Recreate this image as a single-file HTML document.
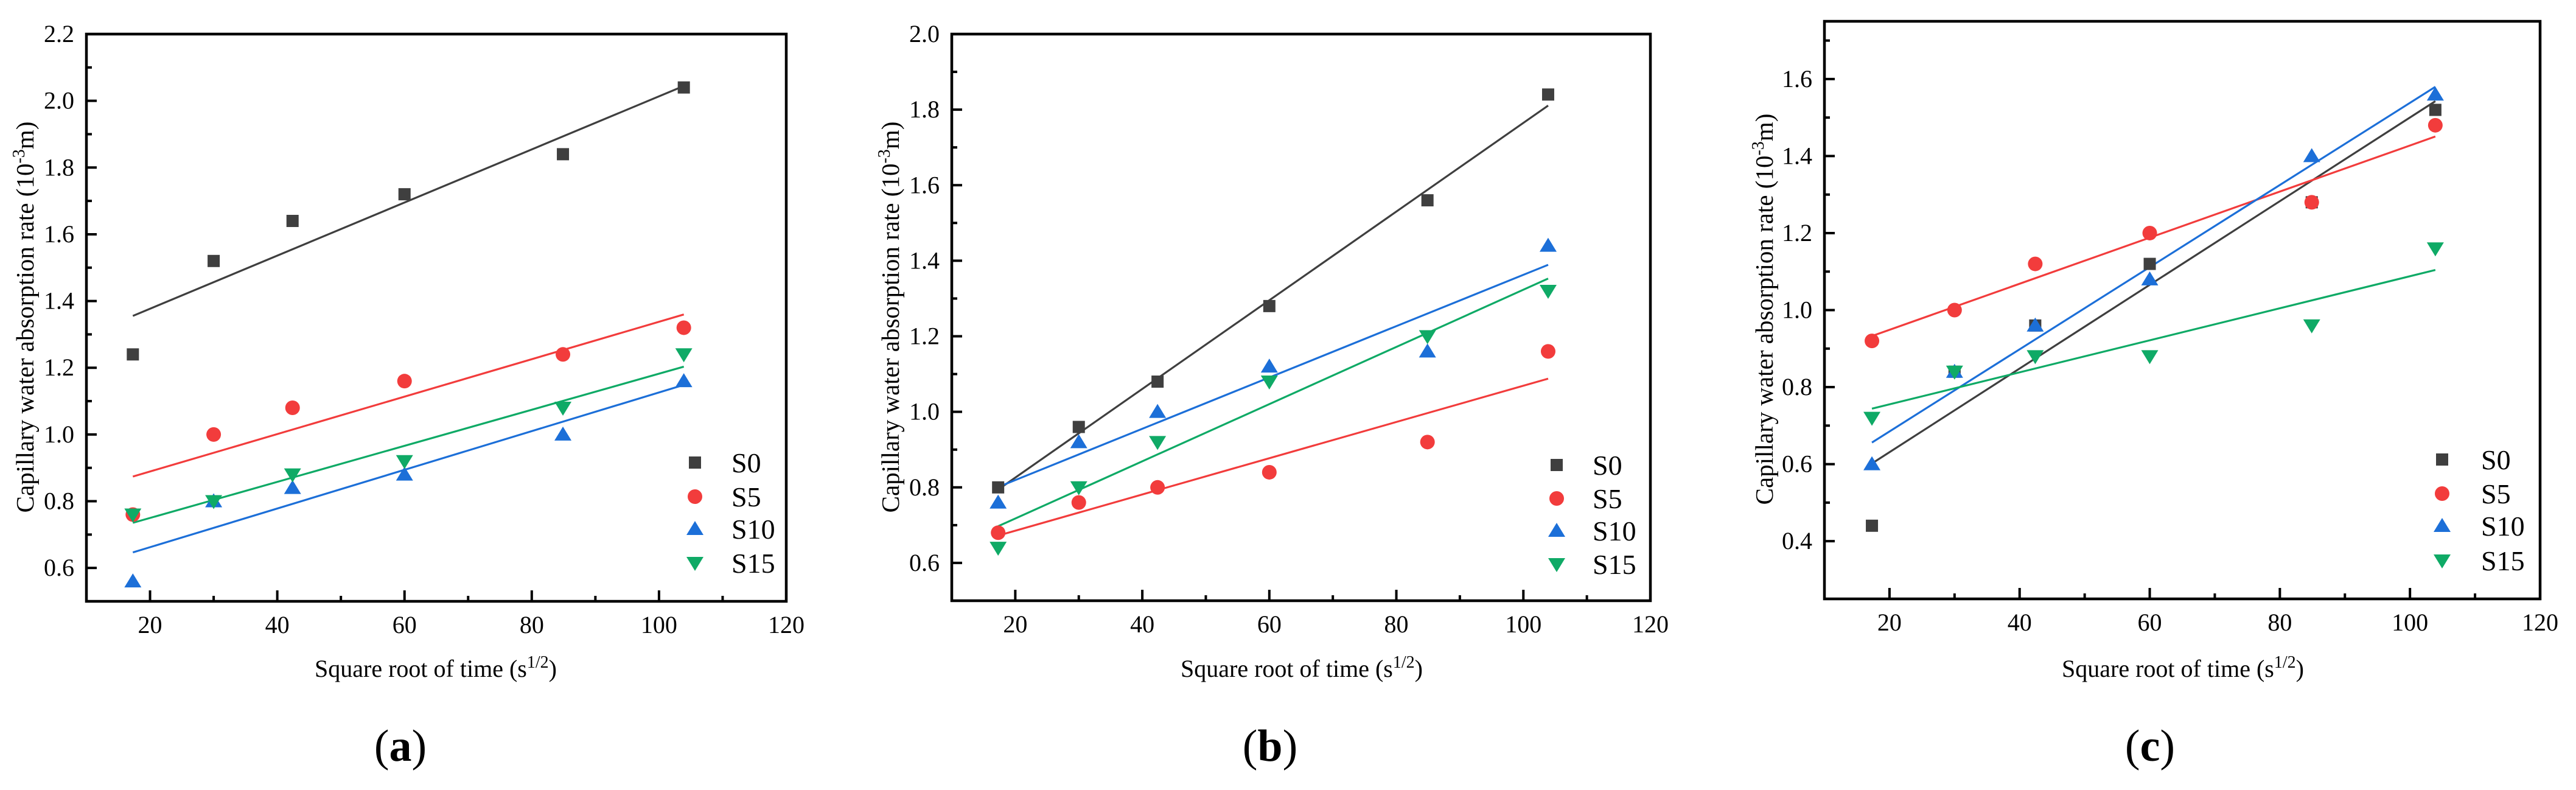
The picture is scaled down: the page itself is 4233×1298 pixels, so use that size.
<!DOCTYPE html>
<html><head><meta charset="utf-8">
<style>
html,body{margin:0;padding:0;background:#fff;}
svg{display:block;}
svg text{font-family:"Liberation Serif","Times New Roman",serif;}
</style></head>
<body>
<svg id="fig" width="4233" height="1298" viewBox="0 0 4233 1298" font-family="Liberation Serif, serif"></svg>
<script>
const xTimes = [17.3, 30, 42.4, 60, 84.9, 103.9];
const seriesNames = ["S0","S5","S10","S15"];
const seriesColors = ["#3f3f3f","#f23c3c","#1c6fd8","#0faa66"];
const aS0 = [1.24,1.52,1.64,1.72,1.84,2.04];
const aS5 = [0.76,1.00,1.08,1.16,1.24,1.32];
const aS10 = [0.56,0.80,0.84,0.88,1.00,1.16];
const aS15 = [0.76,0.80,0.88,0.92,1.08,1.24];
const bS0 = [0.80,0.96,1.08,1.28,1.56,1.84];
const bS5 = [0.68,0.76,0.80,0.84,0.92,1.16];
const bS10 = [0.76,0.92,1.00,1.12,1.16,1.44];
const bS15 = [0.64,0.80,0.92,1.08,1.20,1.32];
const cS0 = [0.44,0.84,0.96,1.12,1.28,1.52];
const cS5 = [0.92,1.00,1.12,1.20,1.28,1.48];
const cS10 = [0.60,0.84,0.96,1.08,1.40,1.56];
const cS15 = [0.72,0.84,0.88,0.88,0.96,1.16];
const xTickLabels = ["20","40","60","80","100","120"];
const aYTicks = ["0.6","0.8","1.0","1.2","1.4","1.6","1.8","2.0","2.2"];
const bYTicks = ["0.6","0.8","1.0","1.2","1.4","1.6","1.8","2.0"];
const cYTicks = ["0.4","0.6","0.8","1.0","1.2","1.4","1.6"];

const NS="http://www.w3.org/2000/svg";
const svg=document.getElementById('fig');
const FF='"Liberation Serif", "Times New Roman", serif';
function mk(tag,attrs,parent){const e=document.createElementNS(NS,tag);for(const k in attrs)e.setAttribute(k,attrs[k]);if(tag==='text')e.style.fontFamily=FF;(parent||svg).appendChild(e);return e;}

function fit(xs,ys){const n=xs.length;let sx=0,sy=0,sxx=0,sxy=0;for(let i=0;i<n;i++){sx+=xs[i];sy+=ys[i];sxx+=xs[i]*xs[i];sxy+=xs[i]*ys[i];}
const b=(n*sxy-sx*sy)/(n*sxx-sx*sx);const a=(sy-b*sx)/n;return [a,b];}

function marker(g,type,cx,cy,color){
  let e;
  if(type===0){e=mk('rect',{x:cx-10,y:cy-10,width:20,height:20,fill:color},g);}
  else if(type===1){e=mk('circle',{cx:cx,cy:cy,r:12,fill:color},g);}
  else if(type===2){e=mk('polygon',{points:`${cx},${cy-13} ${cx+14},${cy+10} ${cx-14},${cy+10}`,fill:color},g);}
  else {e=mk('polygon',{points:`${cx},${cy+13} ${cx+14},${cy-10} ${cx-14},${cy-10}`,fill:color},g);}
  return e;
}

function panel(p){
  const g=mk('g',{});
  
  
  const X=v=>p.L+(v-10)/(110)*(p.R-p.L);
  const Y=v=>p.B-(v-p.ymin)/(p.ymax-p.ymin)*(p.B-p.T);
  p.data.forEach((ys,si)=>{
    const [a,b]=fit(xTimes,ys);
    const x0=xTimes[0],x1=xTimes[xTimes.length-1];
    const ln=mk('line',{x1:X(x0),y1:Y(a+b*x0),x2:X(x1),y2:Y(a+b*x1),stroke:seriesColors[si],'stroke-width':3.2},g);
    
    
  });
  p.data.forEach((ys,si)=>{
    ys.forEach((v,i)=>{
      const m=marker(g,si,X(xTimes[i]),Y(v),seriesColors[si]);
      
      
    });
  });
  const fr=mk('rect',{x:p.L,y:p.T,width:p.R-p.L,height:p.B-p.T,fill:'none',stroke:'#000','stroke-width':4.5},g);
  
  
  for(let v=20;v<=110;v+=10){
    const major=(v%20===0);
    mk('line',{x1:X(v),y1:p.B,x2:X(v),y2:p.B-(major?18:9),stroke:'#000','stroke-width':4},g);
  }
  xTickLabels.forEach(s=>{
    const t=mk('text',{x:X(+s),y:p.B+52,'text-anchor':'middle','font-size':40},g);t.textContent=s;
    
    
  });
  for(let k=Math.round(p.ymin*10)+1;k<Math.round(p.ymax*10);k++){
    const v=k/10;const major=(k%2===0);
    mk('line',{x1:p.L,y1:Y(v),x2:p.L+(major?17:9),y2:Y(v),stroke:'#000','stroke-width':4},g);
  }
  p.yt.forEach(s=>{
    const t=mk('text',{x:p.L-20,y:Y(+s)+13,'text-anchor':'end','font-size':40},g);t.textContent=s;
    
    
  });
  const xt=mk('text',{x:p.xtx,y:1112,'text-anchor':'middle','font-size':40},g);
  xt.innerHTML='Square root of time (s<tspan dy="-15" font-size="28">1/2</tspan><tspan dy="15">)</tspan>';
  
  
  const yt=mk('text',{x:0,y:0,'text-anchor':'middle','font-size':41,transform:`translate(${p.ytx+14},${p.ytc}) rotate(-90)`},g);
  yt.innerHTML='Capillary water absorption rate (10<tspan dy="-15" font-size="28">-3</tspan><tspan dy="15">m)</tspan>';
  
  
  seriesNames.forEach((n,si)=>{
    const yy=p.legY[si];
    const m=marker(g,si,p.legMX,yy,seriesColors[si]);
    
    
    const t=mk('text',{x:p.legTX,y:yy+16,'font-size':46},g);t.textContent=n;
    
    
  });
  const lab=mk('text',{x:p.labX,y:1250,'text-anchor':'middle','font-size':74},g);
  lab.innerHTML='(<tspan font-weight="bold">'+p.id+'</tspan>)';
  
  
}

panel({id:'a',L:142,R:1292,T:56,B:988,ymin:0.5,ymax:2.2,yt:aYTicks,data:[aS0,aS5,aS10,aS15],
  xtx:716,ytx:41,ytc:521,legMX:1142,legTX:1202,legY:[760,816,869,925],labX:658});
panel({id:'b',L:1564,R:2712,T:56,B:987,ymin:0.5,ymax:2.0,yt:bYTicks,data:[bS0,bS5,bS10,bS15],
  xtx:2139,ytx:1463,ytc:521,legMX:2558,legTX:2617,legY:[764,819,872,927],labX:2087});
panel({id:'c',L:2998,R:4174,T:35,B:984,ymin:0.25,ymax:1.75,yt:cYTicks,data:[cS0,cS5,cS10,cS15],
  xtx:3587,ytx:2899,ytc:508,legMX:4013,legTX:4077,legY:[755,811,864,921],labX:3533});
</script>
</body></html>
